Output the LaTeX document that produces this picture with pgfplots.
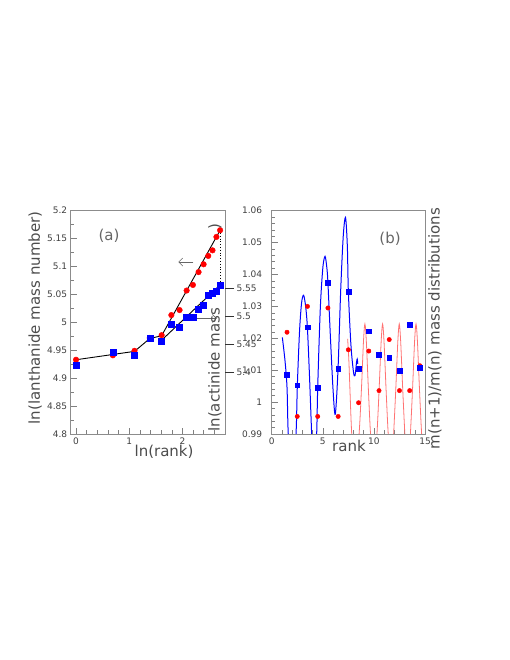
\documentclass[border=0pt]{standalone}
\usepackage{fontspec}
\setmainfont{DejaVu Sans}
\usepackage{pgfplots}
\pgfplotsset{compat=1.18}
\usetikzlibrary{arrows.meta}

\pgfplotsset{
  rootframe/.style={
    scale only axis, anchor=south west, height=223.3pt,
    axis line style={black!45, line width=0.6pt},
    tick align=inside, tick pos=left,
    major tick length=6pt, minor tick length=3.5pt,
    tick style={black!50, line width=0.5pt},
    tick label style={font=\fontsize{9}{10}\selectfont, text=black!75},
    /pgf/number format/assume math mode=true,
    label style={font=\fontsize{15}{18}\selectfont, text=black!70},
    scaled ticks=false,
  },
}

\begin{document}
\begin{tikzpicture}
\path[use as bounding box] (0,0) rectangle (510pt,660pt);

% panel (a)
\begin{axis}[rootframe,
  at={(70.7pt,226pt)}, width=154.3pt,
  xmin=-0.1, xmax=2.8, ymin=4.8, ymax=5.2,
  xtick={0,1,2}, minor xtick={0.2,0.4,0.6,0.8,1.2,1.4,1.6,1.8,2.2,2.4,2.6},
  ytick={4.8,4.85,4.9,4.95,5,5.05,5.1,5.15,5.2},
  minor ytick={4.825,4.875,4.925,4.975,5.025,5.075,5.125,5.175},
  xlabel={ln(rank)}, ylabel={ln(lanthanide mass number)},
  xlabel style={at={(axis description cs:0.605,-0.081)}, anchor=center},
  ylabel style={at={(axis description cs:-0.231,0.52)}, anchor=center},
]
\addplot[only marks, mark=*, mark size=2.8pt, color=red] coordinates {
(0,4.933) (0.693,4.941) (1.099,4.949) (1.386,4.972) (1.609,4.977)
(1.792,5.013) (1.946,5.022) (2.079,5.057) (2.197,5.067) (2.303,5.090)
(2.398,5.104) (2.485,5.119) (2.565,5.129) (2.639,5.153) (2.708,5.165)
};
\addplot[only marks, mark=square*, mark size=3pt, color=blue] coordinates {
(0,4.924) (0.693,4.946) (1.099,4.942) (1.386,4.971) (1.609,4.967)
(1.792,4.996) (1.946,4.992) (2.079,5.009) (2.197,5.009) (2.303,5.024)
(2.398,5.030) (2.485,5.049) (2.565,5.052) (2.639,5.056) (2.708,5.067)
};
\addplot[black, line width=0.9pt] coordinates {
(0,4.933) (1.099,4.948) (1.386,4.971) (1.609,4.976) (2.708,5.165)
};
\addplot[black, line width=0.9pt] coordinates {(1.609,4.968) (2.708,5.067)};
\addplot[black, dotted, line width=0.8pt] coordinates {(2.708,5.165) (2.708,5.067)};
\draw[black!60, line width=0.6pt, -{Straight Barb[length=4pt,width=8pt]}]
  (axis cs:2.205,5.108) -- (axis cs:1.923,5.108);
\draw[black!60, line width=0.6pt, -{Straight Barb[length=4pt,width=8pt]}]
  (axis cs:2.269,5.007) -- (axis cs:2.645,5.007);
\node[font=\fontsize{15}{18}\selectfont, text=black!60]
  at (axis description cs:0.248,0.886) {(a)};
\end{axis}

% actinide scale on the right of panel (a)
\begin{axis}[
  at={(70.7pt,226pt)}, anchor=south west, scale only axis,
  width=154.3pt, height=223.3pt,
  xmin=-0.1, xmax=2.8, ymin=5.2885, ymax=5.6891,
  axis x line=none, axis y line*=right, y axis line style={draw=none},
  ytick={5.4,5.45,5.5,5.55}, tick align=outside, major tick length=9pt,
  ytick style={black!80, line width=0.6pt},
  yticklabel style={font=\fontsize{9}{10}\selectfont, text=black!75, xshift=-1pt},
  /pgf/number format/assume math mode=true,
  ylabel={ln(actinide mass\hspace{78pt})},
  ylabel style={at={(axis description cs:0.935,0.010)}, anchor=west,
    inner sep=0pt, font=\fontsize{15}{18}\selectfont, text=black!70},
]
\end{axis}

% panel (b)
\begin{axis}[rootframe,
  at={(271.7pt,226pt)}, width=153.3pt,
  xmin=0, xmax=15, ymin=0.99, ymax=1.06,
  xtick={0,5,10,15}, minor x tick num=4,
  ytick={0.99,1,1.01,1.02,1.03,1.04,1.05,1.06}, minor y tick num=4,
  yticklabel style={xshift=-6pt},
  xlabel={rank}, ylabel={m(n+1)/m(n) mass distributions},
  xlabel style={at={(axis description cs:0.504,-0.054)}, anchor=center},
  ylabel style={at={(axis description cs:1.065,0.472)}, anchor=center},
]
\addplot[blue, line width=1pt, smooth] coordinates {
(1.04,1.0203) (1.30,1.013) (1.50,1.0045) (1.62,0.99) (2.00,0.970)
(2.38,0.99) (2.51,1.0053) (2.72,1.022) (2.92,1.031) (3.12,1.0335)
(3.32,1.030) (3.49,1.0235) (3.70,1.008) (3.91,0.99) (4.15,0.972)
(4.40,0.99) (4.50,1.0044) (4.75,1.029) (5.00,1.042) (5.22,1.0457)
(5.40,1.042) (5.50,1.0375) (5.75,1.020) (6.00,1.004) (6.22,0.9962)
(6.49,1.0104) (6.75,1.035) (7.00,1.052) (7.22,1.0579) (7.40,1.049)
(7.50,1.0347) (7.75,1.018) (8.00,1.0095) (8.15,1.0083) (8.30,1.0125)
(8.37,1.0135) (8.42,1.012)
};
\addplot[red!55, line width=0.8pt, smooth] coordinates {
(7.43,1.0198) (7.55,1.013) (7.66,1.0035) (7.83,0.99) (8.15,0.976)
(8.55,0.99) (8.78,1.004) (8.98,1.019) (9.12,1.0245) (9.26,1.019)
(9.46,1.004) (9.67,0.99) (10.0,0.976) (10.3,0.99) (10.51,1.004)
(10.71,1.019) (10.85,1.0245) (10.99,1.019) (11.19,1.004) (11.4,0.99)
(11.7,0.976) (11.93,0.99) (12.14,1.004) (12.34,1.019) (12.48,1.0245)
(12.62,1.019) (12.82,1.004) (13.03,0.99) (13.3,0.976) (13.57,0.99)
(13.78,1.004) (13.98,1.019) (14.12,1.0245) (14.26,1.019) (14.46,1.004)
(14.67,0.99) (14.95,0.976)
};
\addplot[only marks, mark=*, mark size=2.2pt, color=red] coordinates {
(1.5,1.0219) (2.5,0.9955) (3.5,1.0300) (4.5,0.9955) (5.5,1.0295)
(6.5,0.9955) (7.5,1.0164) (8.5,0.9998) (9.5,1.0160) (10.5,1.0036)
(11.5,1.0196) (12.5,1.0036) (13.5,1.0036) (14.5,1.0114)
};
\addplot[only marks, mark=square*, mark size=2.4pt, color=blue] coordinates {
(1.5,1.0085) (2.5,1.0053) (3.5,1.0235) (4.5,1.0044) (5.5,1.0375)
(6.5,1.0104) (7.5,1.0347) (8.5,1.0104) (9.5,1.0222) (10.5,1.0148)
(11.5,1.0139) (12.5,1.0098) (13.5,1.0242) (14.5,1.0107)
};
\node[font=\fontsize{15}{18}\selectfont, text=black!60]
  at (axis description cs:0.772,0.873) {(b)};
\end{axis}
\end{tikzpicture}
\end{document}
